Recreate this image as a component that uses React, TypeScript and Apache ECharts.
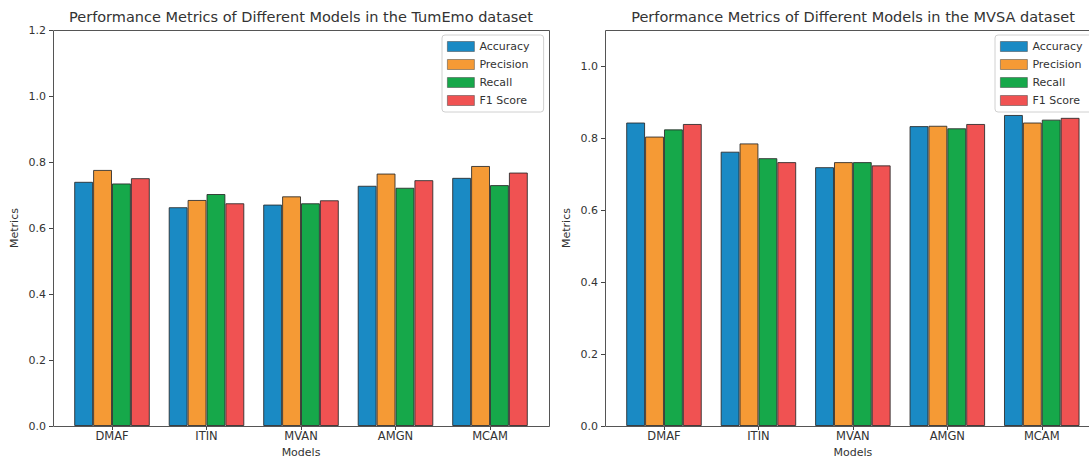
import React, { useEffect, useRef } from "react";
import * as echarts from "echarts";

const categories = ["DMAF", "ITIN", "MVAN", "AMGN", "MCAM"];
const metricNames = ["Accuracy", "Precision", "Recall", "F1 Score"];
const colors = ["#1a8ac4", "#f59a35", "#16a84a", "#f05252"];

// TumEmo dataset
const tumAccuracy = [0.74, 0.663, 0.671, 0.728, 0.752];
const tumPrecision = [0.776, 0.685, 0.696, 0.765, 0.788];
const tumRecall = [0.735, 0.703, 0.675, 0.722, 0.73];
const tumF1 = [0.751, 0.675, 0.684, 0.745, 0.768];

// MVSA dataset
const mvsaAccuracy = [0.843, 0.762, 0.719, 0.833, 0.864];
const mvsaPrecision = [0.804, 0.785, 0.733, 0.834, 0.843];
const mvsaRecall = [0.824, 0.744, 0.733, 0.827, 0.851];
const mvsaF1 = [0.839, 0.733, 0.724, 0.839, 0.856];

const leftTicks = [0, 0.2, 0.4, 0.6, 0.8, 1.0, 1.2];
const rightTicks = [0, 0.2, 0.4, 0.6, 0.8, 1.0];

const titles = [
  "Performance Metrics of Different Models in the TumEmo dataset",
  "Performance Metrics of Different Models in the MVSA dataset",
];

const FONT = "DejaVu Sans";

export default function App() {
  const ref = useRef<HTMLDivElement>(null);
  useEffect(() => {
    if (!ref.current) return;
    const chart = echarts.init(ref.current, undefined, { renderer: "svg" });

    const frames = [
      { x: 53, y: 30, w: 496, h: 396 },
      { x: 605, y: 30, w: 496, h: 396 },
    ];
    const band = 94.5;
    const margin = 59;

    const grids = frames.map((f) => {
      const gl = f.x + margin - band / 2;
      return { left: gl, top: f.y, width: band * 5, height: f.h };
    });

    const tumData = [tumAccuracy, tumPrecision, tumRecall, tumF1];
    const mvsaData = [mvsaAccuracy, mvsaPrecision, mvsaRecall, mvsaF1];

    const mkSeries = (data: number[][], idx: number) =>
      data.map((d, i) => ({
        type: "bar",
        name: metricNames[i],
        xAxisIndex: idx,
        yAxisIndex: idx,
        data: d,
        barGap: "0%",
        barCategoryGap: "20%",
        itemStyle: {
          color: colors[i],
          borderColor: "rgba(40,40,40,0.85)",
          borderWidth: 1,
        },
      }));

    const xAxisCommon = {
      type: "category",
      data: categories,
      axisLine: { show: false },
      axisTick: { show: true, alignWithLabel: true, length: 4, lineStyle: { color: "#444" } },
      axisLabel: { margin: 4, fontSize: 11.5, color: "#333", fontFamily: FONT },
      name: "Models",
      nameLocation: "middle",
      nameGap: 19,
      nameTextStyle: { fontSize: 11, color: "#333", fontFamily: FONT },
      splitLine: { show: false },
    };

    const yAxisCommon = (idx: number, max: number, ticks: number[]) => ({
      type: "value",
      gridIndex: idx,
      min: 0,
      max,
      offset: grids[idx].left - frames[idx].x,
      axisLine: { show: false },
      axisTick: { show: true, length: 4, lineStyle: { color: "#444" }, customValues: ticks },
      axisLabel: {
        fontSize: 11,
        color: "#333",
        fontFamily: FONT,
        margin: 7,
        customValues: ticks,
        formatter: (v: number) => v.toFixed(1),
      },
      splitLine: { show: false },
      name: "Metrics",
      nameLocation: "middle",
      nameGap: 33,
      nameTextStyle: { fontSize: 11, color: "#333", fontFamily: FONT },
    });

    const legendCommon = (left: number) => ({
      orient: "vertical",
      left,
      top: 35,
      itemWidth: 27,
      itemHeight: 10,
      itemGap: 5,
      itemTextGap: 8,
      padding: [5, 14, 5, 5],
      backgroundColor: "rgba(255,255,255,0.85)",
      borderColor: "#d0d0d0",
      borderWidth: 1,
      borderRadius: 3,
      textStyle: { fontSize: 11, lineHeight: 13, color: "#333", fontFamily: FONT },
      itemStyle: { borderColor: "rgba(60,60,60,0.6)", borderWidth: 0.8 },
      icon: "rect",
      data: metricNames,
    });

    chart.setOption({
      animation: false,
      backgroundColor: "#ffffff",
      textStyle: { fontFamily: FONT },
      grid: grids,
      xAxis: [
        { ...xAxisCommon, gridIndex: 0 },
        { ...xAxisCommon, gridIndex: 1 },
      ],
      yAxis: [yAxisCommon(0, 1.2, leftTicks), yAxisCommon(1, 1.1, rightTicks)],
      legend: [legendCommon(442), legendCommon(995)],
      series: [...mkSeries(tumData, 0), ...mkSeries(mvsaData, 1)],
      graphic: [
        ...frames.map((f) => ({
          type: "rect",
          z: 100,
          silent: true,
          shape: { x: f.x + 0.5, y: f.y + 0.5, width: f.w, height: f.h },
          style: { fill: "none", stroke: "#555", lineWidth: 1 },
        })),
        ...frames.map((f, i) => ({
          type: "text",
          x: f.x + f.w / 2,
          y: 17,
          style: {
            text: titles[i],
            fontSize: 14.5,
            fontFamily: FONT,
            fill: "#333",
            textAlign: "center",
            textVerticalAlign: "middle",
          },
        })),
      ],
    });
    return () => chart.dispose();
  }, []);

  return (
    <div
      ref={ref}
      style={{ position: "fixed", left: 0, top: 0, width: 1089, height: 463, overflow: "hidden" }}
    />
  );
}
